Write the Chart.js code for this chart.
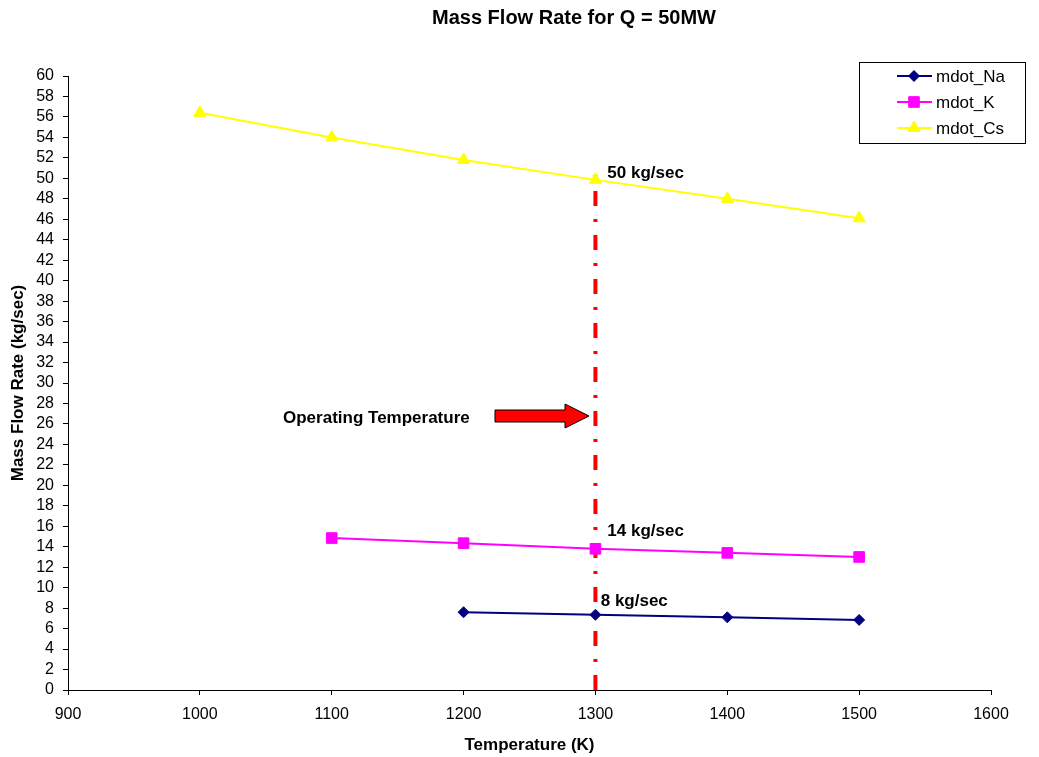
<!DOCTYPE html>
<html>
<head>
<meta charset="utf-8">
<script src="https://cdn.jsdelivr.net/npm/chart.js@4"></script>
<style>
  html, body { margin: 0; padding: 0; background: #fff; }
  #wrap { width: 1039px; height: 757px; position: relative; }
</style>
</head>
<body>
<div id="wrap"><canvas id="flow"></canvas></div>
<script>
// Mass flow rate vs temperature, Q = 50MW
const temps = [1000, 1100, 1200, 1300, 1400, 1500];
const mdotNa = [null, null, 7.6, 7.35, 7.1, 6.85];
const mdotK = [null, 14.85, 14.35, 13.8, 13.4, 13.0];
const mdotCs = [56.4, 54.0, 51.8, 49.85, 48.0, 46.1];
const seriesNames = ['mdot_Na', 'mdot_K', 'mdot_Cs'];
const opTemp = 1300;
const opLineTop = 50.8;
const notes = [
  { text: '50 kg/sec', x: 1309, y: 50.5 },
  { text: '14 kg/sec', x: 1309, y: 15.5 },
  { text: '8 kg/sec', x: 1304, y: 8.7 }
];

const font = '"Liberation Sans", Arial, sans-serif';

function toPoints(vals) {
  const pts = [];
  vals.forEach((v, i) => { if (v !== null) pts.push({ x: temps[i], y: v }); });
  return pts;
}

const navy = '#000080', magenta = '#ff00ff', yellow = '#ffff00', red = '#ff0000';

const series = [
  { label: seriesNames[0], data: toPoints(mdotNa), color: navy, style: 'rectRot', r: 5.5 },
  { label: seriesNames[1], data: toPoints(mdotK), color: magenta, style: 'rect', r: 7.5 },
  { label: seriesNames[2], data: toPoints(mdotCs), color: yellow, style: 'triangle', r: 7 }
];

// titles, notes, arrow and legend box
const extras = {
  id: 'extras',
  afterDraw(chart) {
    const ctx = chart.ctx;
    const xs = chart.scales.x, ys = chart.scales.y;
    const area = chart.chartArea;
    ctx.save();
    ctx.fillStyle = '#000';
    ctx.textBaseline = 'middle';

    ctx.font = 'bold 20px ' + font;
    ctx.textAlign = 'center';
    ctx.fillText('Mass Flow Rate for Q = 50MW', 574, 18);

    ctx.font = 'bold 17px ' + font;
    ctx.fillText('Temperature (K)', (area.left + area.right) / 2, 745);
    ctx.save();
    ctx.translate(18, (area.top + area.bottom) / 2);
    ctx.rotate(-Math.PI / 2);
    ctx.fillText('Mass Flow Rate (kg/sec)', 0, 0);
    ctx.restore();

    ctx.textAlign = 'left';
    ctx.font = 'bold 17px ' + font;
    notes.forEach(n => ctx.fillText(n.text, xs.getPixelForValue(n.x), ys.getPixelForValue(n.y)));

    // operating temperature arrow
    ctx.font = 'bold 17px ' + font;
    ctx.fillText('Operating Temperature', 283, 418);
    const ay = 416;
    ctx.beginPath();
    ctx.moveTo(495, ay - 6);
    ctx.lineTo(565, ay - 6);
    ctx.lineTo(565, ay - 12);
    ctx.lineTo(589, ay);
    ctx.lineTo(565, ay + 12);
    ctx.lineTo(565, ay + 6);
    ctx.lineTo(495, ay + 6);
    ctx.closePath();
    ctx.fillStyle = red;
    ctx.fill();
    ctx.strokeStyle = '#000';
    ctx.lineWidth = 1;
    ctx.stroke();

    // legend
    ctx.strokeStyle = '#000';
    ctx.strokeRect(859.5, 62.5, 166, 81);
    ctx.font = '17px ' + font;
    series.forEach((s, i) => {
      const y = 76 + i * 26;
      ctx.beginPath();
      ctx.moveTo(897, y);
      ctx.lineTo(932, y);
      ctx.strokeStyle = s.color;
      ctx.lineWidth = 2;
      ctx.stroke();
      ctx.fillStyle = s.color;
      ctx.lineWidth = 1;
      Chart.helpers.drawPoint(ctx, { pointStyle: s.style, radius: s.r, rotation: 0, borderWidth: 1 }, 914, y);
      ctx.fillStyle = '#000';
      ctx.fillText(s.label, 936, y + 1);
    });
    ctx.restore();
  }
};

new Chart('flow', {
  type: 'line',
  data: {
    datasets: [
      {
        label: 'op',
        data: [{ x: opTemp, y: 0 }, { x: opTemp, y: opLineTop }],
        borderColor: red,
        borderWidth: 4,
        borderDash: [15, 13, 3, 13],
        pointRadius: 0,
        order: 2
      },
      ...series.map(s => ({
        label: s.label,
        data: s.data,
        borderColor: s.color,
        backgroundColor: s.color,
        borderWidth: 2,
        pointStyle: s.style,
        pointRadius: s.r,
        pointHoverRadius: s.r,
        pointBorderWidth: 1,
        order: 1
      }))
    ]
  },
  options: {
    responsive: true,
    maintainAspectRatio: false,
    animation: false,
    layout: { padding: { top: 76, right: 48, left: 0, bottom: 0 } },
    plugins: {
      legend: { display: false },
      title: { display: false },
      tooltip: { enabled: false }
    },
    scales: {
      x: {
        type: 'linear',
        min: 900,
        max: 1600,
        afterFit(scale) { scale.height = 67; },
        ticks: {
          stepSize: 100, color: '#000', padding: 10, autoSkip: false,
          font: { family: font, size: 16 },
          callback: v => String(v)
        },
        grid: { drawOnChartArea: false, drawTicks: true, tickLength: 5, color: '#000' },
        border: { display: true, color: '#000', width: 1 }
      },
      y: {
        min: 0,
        max: 60,
        afterFit(scale) { scale.width = 68; },
        ticks: { stepSize: 2, color: '#000', padding: 9, autoSkip: false, font: { family: font, size: 16 } },
        grid: { drawOnChartArea: false, drawTicks: true, tickLength: 5, color: '#000' },
        border: { display: true, color: '#000', width: 1 }
      }
    }
  },
  plugins: [extras]
});
</script>
</body>
</html>
